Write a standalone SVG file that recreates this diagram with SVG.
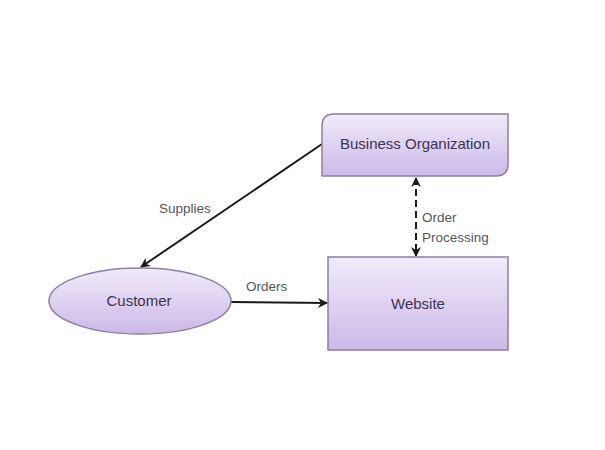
<svg xmlns="http://www.w3.org/2000/svg" width="605" height="450" viewBox="0 0 605 450">
<defs>
<linearGradient id="g" x1="0" y1="0" x2="0" y2="1">
<stop offset="0" stop-color="#f1ebfa"/>
<stop offset="1" stop-color="#cbb9e8"/>
</linearGradient>
<marker id="ah" viewBox="0 0 10 10" refX="9" refY="5" markerWidth="5" markerHeight="5" orient="auto-start-reverse" markerUnits="strokeWidth">
<path d="M0,0 L10,5 L0,10 L3,5 z" fill="#1a1a1a"/>
</marker>
</defs>
<style>
.node{fill:url(#g);stroke:#8c7fa3;stroke-width:1.5}
.nt{font-family:"Liberation Sans",Arial,sans-serif;font-size:15px;fill:#3b3550;text-anchor:middle}
.lbl{font-family:"Liberation Sans",Arial,sans-serif;font-size:13.5px;fill:#555}
.conn{stroke:#1a1a1a;stroke-width:2;fill:none}
</style>
<rect width="605" height="450" fill="#fff"/>
<g id="connectors">
<line class="conn" x1="322" y1="144" x2="141" y2="267" marker-end="url(#ah)"/>
<line class="conn" x1="231" y1="302" x2="327" y2="303" marker-end="url(#ah)"/>
<line class="conn" x1="416" y1="178" x2="416" y2="256" stroke-dasharray="7,4" marker-start="url(#ah)" marker-end="url(#ah)"/>
<text class="lbl" x="159" y="213">Supplies</text>
<text class="lbl" x="246" y="291">Orders</text>
<text class="lbl" x="422" y="222">Order</text>
<text class="lbl" x="422" y="242">Processing</text>
</g>
<g id="business">
<path class="node" d="M334,114 H508 V164 Q508,176 496,176 H322 V126 Q322,114 334,114 Z"/>
<text class="nt" x="415" y="149">Business Organization</text>
</g>
<g id="customer">
<ellipse class="node" cx="140" cy="301" rx="91" ry="33"/>
<text class="nt" x="139" y="306">Customer</text>
</g>
<g id="website">
<rect class="node" x="328" y="257" width="180" height="93"/>
<text class="nt" x="418" y="309">Website</text>
</g>
</svg>
